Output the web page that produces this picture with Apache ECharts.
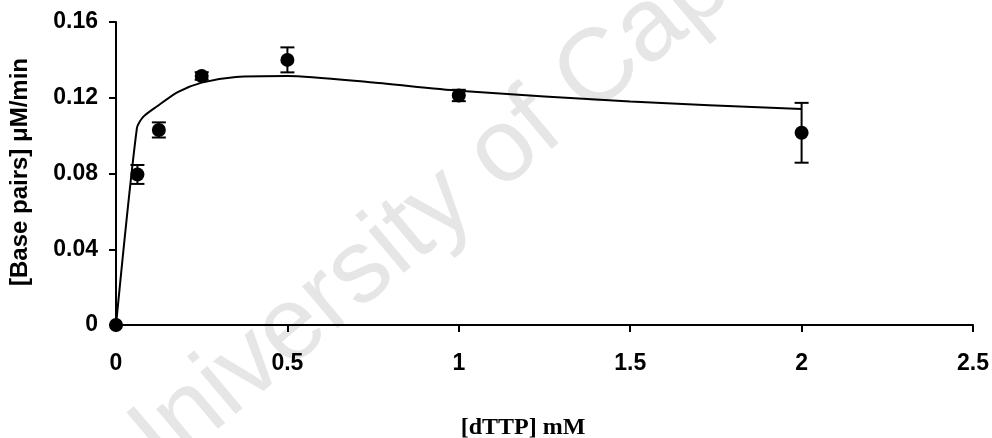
<!DOCTYPE html>
<html>
<head>
<meta charset="utf-8">
<script src="https://cdn.jsdelivr.net/npm/echarts@6/dist/echarts.min.js"></script>
<style>
html,body{margin:0;padding:0;background:#fff;}
#chart{width:992px;height:438px;}
</style>
</head>
<body>
<div id="chart"></div>
<script>
// Measured data (dTTP concentration, mM)
var dttp = [0, 0.0625, 0.125, 0.25, 0.5, 1, 2];
// Mean rate, µM/min
var rate = [0, 0.0795, 0.103, 0.1315, 0.140, 0.1212, 0.1015];
// Error (±), µM/min
var rateErr = [0, 0.005, 0.004, 0.002, 0.0066, 0.003, 0.0158];
// Fitted curve
var fitX = [0, 0.061, 0.08, 0.12, 0.18, 0.25, 0.35, 0.5, 0.75, 1, 1.5, 2];
var fitY = [0, 0.104, 0.110, 0.1155, 0.123, 0.128, 0.131, 0.1315, 0.128, 0.1237, 0.118, 0.114];
// Axis ticks
var xTicks = [0, 0.5, 1, 1.5, 2, 2.5];
var yTicks = [0, 0.04, 0.08, 0.12, 0.16];

var chart = echarts.init(document.getElementById('chart'), null, {renderer: 'canvas'});

var points = dttp.map(function (x, i) { return [x, rate[i]]; });
var errData = dttp.map(function (x, i) { return [x, rate[i] - rateErr[i], rate[i] + rateErr[i]]; });
var fitData = fitX.map(function (x, i) { return [x, fitY[i]]; });

var option = {
  backgroundColor: '#ffffff',
  animation: false,
  grid: {left: 116, right: 19, top: 22, bottom: 113, containLabel: false},
  graphic: [
    {
      type: 'text', z: 0, zlevel: 0,
      x: 110, y: 482, rotation: 40 * Math.PI / 180,
      style: {text: 'University of Cape Town', font: '104px "Liberation Sans", Arial, sans-serif', fill: '#e6e6e6', textAlign: 'left', textVerticalAlign: 'middle'}
    },
    {
      type: 'text', z: 10,
      x: 20, y: 172, rotation: Math.PI / 2,
      style: {text: '[Base pairs] μM/min', font: 'bold 24px "Liberation Sans", Arial, sans-serif', fill: '#000', textAlign: 'center', textVerticalAlign: 'middle'}
    },
    {
      type: 'text', z: 10,
      x: 523, y: 428,
      style: {text: '[dTTP] mM', font: 'bold 24px "Liberation Serif", "Times New Roman", serif', fill: '#000', textAlign: 'center', textVerticalAlign: 'middle'}
    }
  ],
  xAxis: {
    type: 'value', min: xTicks[0], max: xTicks[xTicks.length - 1], interval: 0.5,
    axisLine: {show: true, onZero: false, lineStyle: {color: '#000', width: 2}},
    axisTick: {show: true, inside: false, length: 7, lineStyle: {color: '#000', width: 2}},
    axisLabel: {color: '#000', fontFamily: '"Liberation Sans", Arial, sans-serif', fontWeight: 'bold', fontSize: 23, margin: 27},
    splitLine: {show: false}
  },
  yAxis: {
    type: 'value', min: yTicks[0], max: yTicks[yTicks.length - 1], interval: 0.04,
    axisLine: {show: true, onZero: false, lineStyle: {color: '#000', width: 2}},
    axisTick: {show: true, inside: false, length: 7, lineStyle: {color: '#000', width: 2}},
    axisLabel: {color: '#000', fontFamily: '"Liberation Sans", Arial, sans-serif', fontWeight: 'bold', fontSize: 23, margin: 18,
      formatter: function (v) { return v === 0 ? '0' : v.toFixed(2); }},
    splitLine: {show: false}
  },
  series: [
    {
      type: 'line', name: 'fit', data: fitData, smooth: 0.25, showSymbol: false, symbol: 'none',
      lineStyle: {color: '#000', width: 2}, z: 3
    },
    {
      type: 'custom', name: 'err', data: errData, z: 4,
      renderItem: function (params, api) {
        var x = api.value(0), lo = api.value(1), hi = api.value(2);
        if (hi - lo <= 0) return null;
        var pLo = api.coord([x, lo]), pHi = api.coord([x, hi]);
        var w = 7;
        var st = {stroke: '#000', lineWidth: 2};
        return {type: 'group', children: [
          {type: 'line', shape: {x1: pLo[0], y1: pLo[1], x2: pHi[0], y2: pHi[1]}, style: st},
          {type: 'line', shape: {x1: pLo[0] - w, y1: pLo[1], x2: pLo[0] + w, y2: pLo[1]}, style: st},
          {type: 'line', shape: {x1: pHi[0] - w, y1: pHi[1], x2: pHi[0] + w, y2: pHi[1]}, style: st}
        ]};
      }
    },
    {
      type: 'scatter', name: 'data', data: points, symbol: 'circle', symbolSize: 14,
      itemStyle: {color: '#000', opacity: 1}, z: 5
    }
  ]
};
chart.setOption(option);
</script>
</body>
</html>
